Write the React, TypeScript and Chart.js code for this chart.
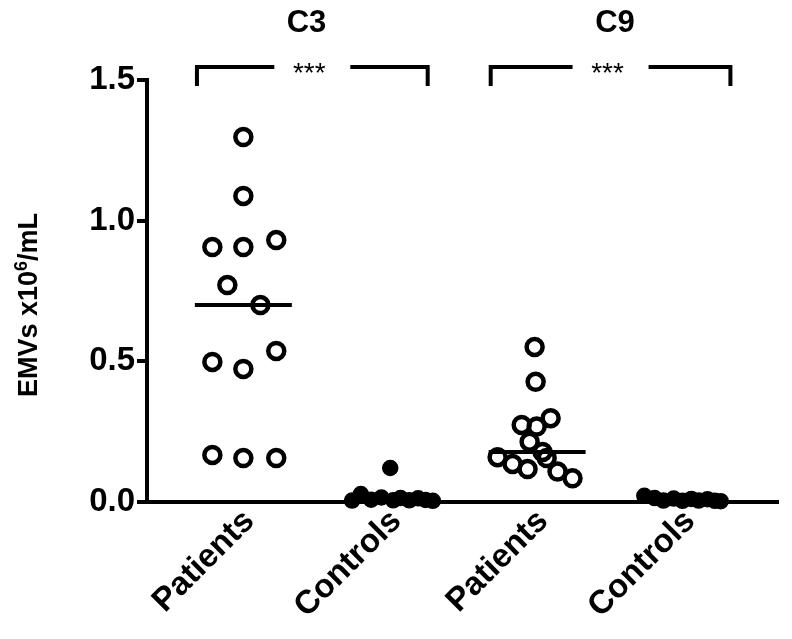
import React, { useEffect, useRef } from 'react';
import { Chart, registerables } from 'chart.js';

Chart.register(...registerables);

// ---- data ----
const CATEGORIES = ['Patients', 'Controls', 'Patients', 'Controls'];
const Y_TICKS = [0, 0.5, 1.0, 1.5];

const C3_PATIENTS = [1.297, 1.088, 0.906, 0.906, 0.931, 0.771, 0.700, 0.498, 0.473, 0.537, 0.167, 0.156, 0.156];
const C3_PATIENTS_JITTER = [0, 0, -0.211, 0, 0.224, -0.109, 0.116, -0.211, 0, 0.224, -0.211, 0, 0.224];

const C3_CONTROLS = [0.005, 0.028, 0.008, 0.016, 0.121, 0.006, 0.014, 0.006, 0.013, 0.007, 0.004];
const C3_CONTROLS_JITTER = [-0.26, -0.2, -0.13, -0.06, 0.0, 0.02, 0.07, 0.13, 0.19, 0.24, 0.29];

const C9_PATIENTS = [0.551, 0.427, 0.274, 0.268, 0.298, 0.214, 0.178, 0.156, 0.159, 0.135, 0.117, 0.108, 0.084];
const C9_PATIENTS_JITTER = [-0.017, -0.01, -0.105, -0.003, 0.092, -0.051, 0.037, 0.065, -0.269, -0.167, -0.065, 0.139, 0.241];

const C9_CONTROLS = [0.022, 0.014, 0.005, 0.012, 0.004, 0.011, 0.005, 0.01, 0.004, 0.003];
const C9_CONTROLS_JITTER = [-0.27, -0.2, -0.14, -0.07, -0.01, 0.05, 0.1, 0.16, 0.21, 0.25];

const GROUP_LABELS = ['C3', 'C9'];
const GROUP_HEADER_X = [0.43, 2.53];
const BRACKET_FROM = [-0.316, 1.684];
const BRACKET_TO = [1.255, 3.316];
const SIGNIFICANCE = ['***', '***'];

const FONT = 'Liberation Sans, Arial, sans-serif';

function median(arr: number[]): number {
  const s = [...arr].sort((a, b) => a - b);
  const m = Math.floor(s.length / 2);
  return s.length % 2 ? s[m] : (s[m - 1] + s[m]) / 2;
}

function pts(cat: number, values: number[], jitter: number[]) {
  return values.map((v, i) => ({ x: cat + jitter[i], y: v }));
}

const annotationPlugin = {
  id: 'annotations',
  afterDraw(chart: any) {
    const { ctx, scales } = chart;
    const xs = scales.x;
    const ys = scales.y;
    ctx.save();
    ctx.strokeStyle = '#000';
    ctx.fillStyle = '#000';
    ctx.lineWidth = 4;
    ctx.lineJoin = 'miter';
    ctx.lineCap = 'butt';
    const yTop = ys.getPixelForValue(1.546);
    const yBot = ys.getPixelForValue(1.479);
    for (let i = 0; i < GROUP_LABELS.length; i++) {
      const x1 = xs.getPixelForValue(BRACKET_FROM[i]);
      const x2 = xs.getPixelForValue(BRACKET_TO[i]);
      const mid = (x1 + x2) / 2;
      const gap = 38;
      ctx.beginPath();
      ctx.moveTo(x1, yBot);
      ctx.lineTo(x1, yTop);
      ctx.lineTo(mid - gap, yTop);
      ctx.moveTo(mid + gap, yTop);
      ctx.lineTo(x2, yTop);
      ctx.lineTo(x2, yBot);
      ctx.stroke();

      ctx.font = `28px ${FONT}`;
      ctx.textAlign = 'center';
      ctx.textBaseline = 'alphabetic';
      ctx.fillText(SIGNIFICANCE[i], mid - 3, yTop + 15);

      ctx.font = `bold 31px ${FONT}`;
      ctx.textBaseline = 'middle';
      ctx.fillText(GROUP_LABELS[i], xs.getPixelForValue(GROUP_HEADER_X[i]), ys.getPixelForValue(1.70));
    }

    // y axis title with superscript
    const cx = 27;
    const cy = (ys.getPixelForValue(0) + ys.getPixelForValue(1.5)) / 2 + 14;
    ctx.translate(cx, cy);
    ctx.rotate(-Math.PI / 2);
    const mainFont = `bold 27px ${FONT}`;
    const supFont = `bold 18px ${FONT}`;
    ctx.font = mainFont;
    const p1 = 'EMVs x10';
    const p3 = '/mL';
    const w1 = ctx.measureText(p1).width;
    const w3 = ctx.measureText(p3).width;
    ctx.font = supFont;
    const w2 = ctx.measureText('6').width;
    const total = w1 + w2 + w3;
    let x = -total / 2;
    ctx.textAlign = 'left';
    ctx.textBaseline = 'alphabetic';
    const base = 10;
    ctx.font = mainFont;
    ctx.fillText(p1, x, base);
    x += w1;
    ctx.font = supFont;
    ctx.fillText('6', x, base - 10);
    x += w2;
    ctx.font = mainFont;
    ctx.fillText(p3, x, base);
    ctx.restore();
  },
};

const openStyle = {
  pointRadius: 8,
  pointBorderWidth: 4.5,
  pointBackgroundColor: 'rgba(0,0,0,0)',
  pointBorderColor: '#000',
  showLine: false,
  clip: false as any,
};

const filledStyle = {
  pointRadius: 7.5,
  pointBorderWidth: 1.5,
  pointBackgroundColor: '#000',
  pointBorderColor: '#000',
  showLine: false,
  clip: false as any,
};

export default function App() {
  const ref = useRef<HTMLCanvasElement | null>(null);

  useEffect(() => {
    if (!ref.current) return;
    const medHalf = 0.33;
    const medianLine = (cat: number, values: number[]) => ({
      type: 'line' as const,
      data: [
        { x: cat - medHalf, y: median(values) },
        { x: cat + medHalf, y: median(values) },
      ],
      borderColor: '#000',
      borderWidth: 4,
      pointRadius: 0,
      showLine: true,
      clip: false as any,
    });

    const chart = new Chart(ref.current, {
      type: 'scatter',
      data: {
        datasets: [
          { ...openStyle, data: pts(0, C3_PATIENTS, C3_PATIENTS_JITTER) },
          { ...filledStyle, data: pts(1, C3_CONTROLS, C3_CONTROLS_JITTER) },
          { ...openStyle, data: pts(2, C9_PATIENTS, C9_PATIENTS_JITTER) },
          { ...filledStyle, data: pts(3, C9_CONTROLS, C9_CONTROLS_JITTER) },
          medianLine(0, C3_PATIENTS),
          medianLine(2, C9_PATIENTS),
        ] as any,
      },
      options: {
        animation: false,
        responsive: true,
        maintainAspectRatio: false,
        events: [],
        layout: { padding: { left: 0, right: 14, top: 80, bottom: 0 } },
        plugins: {
          legend: { display: false },
          tooltip: { enabled: false },
          title: { display: false },
        },
        scales: {
          x: {
            type: 'linear',
            min: -0.656,
            max: 3.64,
            afterBuildTicks: (s: any) => {
              s.ticks = CATEGORIES.map((_, i) => ({ value: i }));
            },
            afterFit: (s: any) => {
              s.height = 137;
              s.paddingLeft = 0;
              s.paddingRight = 0;
            },
            ticks: {
              autoSkip: false,
              minRotation: 45,
              maxRotation: 45,
              padding: 0,
              labelOffset: 6,
              color: '#000',
              font: { family: FONT, size: 33, weight: 'bold' },
              callback: (v: any) => CATEGORIES[Math.round(Number(v))] ?? '',
            },
            grid: { display: false, drawTicks: false },
            border: { display: true, color: '#000', width: 4 },
          },
          y: {
            type: 'linear',
            min: 0,
            max: 1.5,
            afterBuildTicks: (s: any) => {
              s.ticks = Y_TICKS.map((v) => ({ value: v }));
            },
            afterFit: (s: any) => {
              s.width = 147;
            },
            ticks: {
              padding: 2,
              color: '#000',
              font: { family: FONT, size: 33, weight: 'bold' },
              callback: (v: any) => Number(v).toFixed(1),
            },
            grid: {
              display: true,
              drawOnChartArea: false,
              drawTicks: true,
              tickLength: 10,
              tickWidth: 4,
              tickColor: '#000',
              color: '#000',
              lineWidth: 4,
            },
            border: { display: true, color: '#000', width: 4 },
          },
        },
      } as any,
      plugins: [annotationPlugin],
    });
    return () => chart.destroy();
  }, []);

  return (
    <div style={{ position: 'fixed', left: 0, top: 0, width: 792, height: 639, background: '#fff' }}>
      <canvas ref={ref} />
    </div>
  );
}
